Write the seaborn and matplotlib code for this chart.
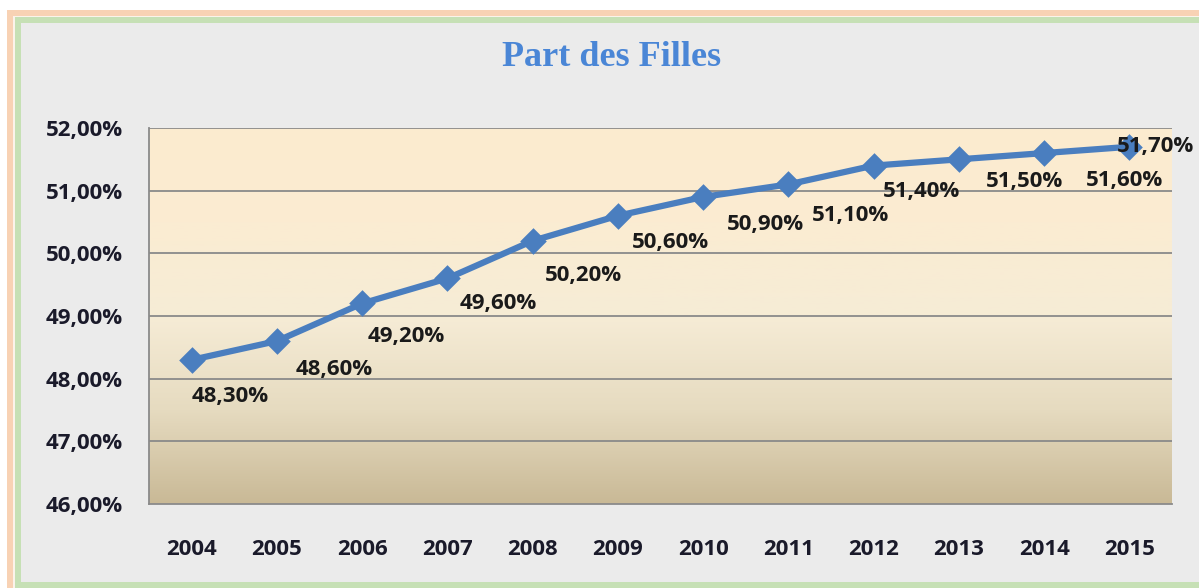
import numpy as np
import matplotlib
matplotlib.use("Agg")
import matplotlib.pyplot as plt
from matplotlib.patches import Rectangle
from matplotlib.colors import LinearSegmentedColormap
import seaborn as sns

# data
years = ["2004", "2005", "2006", "2007", "2008", "2009",
         "2010", "2011", "2012", "2013", "2014", "2015"]
part_filles = [48.3, 48.6, 49.2, 49.6, 50.2, 50.6,
               50.9, 51.1, 51.4, 51.5, 51.6, 51.7]
y_ticks = [46, 47, 48, 49, 50, 51, 52]

# label offsets in pixels (dx, dy), roughly as placed in the original
label_offsets = [(39, -37), (57, -28), (44, -33), (51, -25), (51, -35), (53, -27),
                 (62, -28), (62, -31), (48, -26), (66, -22), (80, -27), (26, 0)]

sns.set_style("white")
plt.rcParams["font.family"] = ["Open Sans", "DejaVu Sans"]

W, H = 1199, 588
fig = plt.figure(figsize=(W / 100, H / 100), dpi=100)
fig.patch.set_facecolor("white")


def px_rect(x0, y0, x1, y1, color):
    # rectangle given in image pixels (origin top-left)
    fig.add_artist(Rectangle((x0 / W, 1 - y1 / H), (x1 - x0) / W, (y1 - y0) / H,
                             transform=fig.transFigure, facecolor=color,
                             edgecolor="none", zorder=-10))


px_rect(7, 10, W + 5, H + 5, "#f8d2b4")
px_rect(13, 16, W + 5, H + 5, "#fbf3ea")
px_rect(15, 17, W + 5, H + 5, "#c6e0b5")
px_rect(21, 23, W + 5, 582, "#ebebeb")

ax = fig.add_axes([149 / W, 1 - 504 / H, (1172 - 149) / W, (504 - 128) / H])
ax.set_facecolor("none")

# gradient fill of plot area
grad = LinearSegmentedColormap.from_list(
    "plotbg", [(0.0, "#c9b996"), (0.25, "#e6dbc0"), (0.5, "#f6ecd6"),
               (0.75, "#fbecd2"), (1.0, "#fcebcf")])
ax.imshow(np.linspace(0, 1, 256).reshape(-1, 1), cmap=grad, aspect="auto",
          extent=[0, 1, 0, 1], transform=ax.transAxes, origin="lower", zorder=0)

for v in y_ticks[1:]:
    ax.axhline(v, color="#8a8a8a", lw=1.3, zorder=1)

sns.pointplot(x=years, y=part_filles, ax=ax, color="#4a7ebf",
              markers="D", markersize=10, linewidth=4.5, zorder=3)

for i, (v, off) in enumerate(zip(part_filles, label_offsets)):
    txt = f"{v:.2f}%".replace(".", ",")
    ax.annotate(txt, (i, v), xytext=off, textcoords="offset pixels",
                ha="center", va="center", fontsize=16, fontweight="bold",
                color="#1a1a1a", zorder=4, annotation_clip=False)

ax.set_xlim(-0.5, len(years) - 0.5)
ax.set_ylim(46, 52)
ax.set_yticks(y_ticks)
ax.set_yticklabels([f"{t:.2f}%".replace(".", ",") for t in y_ticks])
ax.set_xticks(np.arange(len(years)))
ax.set_xticklabels(years)
ax.set_xticks(np.arange(-0.5, len(years)), minor=True)
ax.tick_params(axis="x", which="major", length=0, pad=25)
ax.tick_params(axis="x", which="minor", length=5, width=1.3, color="#8a8a8a",
               direction="out")
ax.tick_params(axis="y", length=6, width=1.3, color="#8a8a8a", pad=13)
for lab in ax.get_xticklabels() + ax.get_yticklabels():
    lab.set_fontsize(16)
    lab.set_fontweight("bold")
    lab.set_color("#1a1a2a")

for s in ["top", "right"]:
    ax.spines[s].set_visible(False)
for s in ["left", "bottom"]:
    ax.spines[s].set_color("#8a8a8a")
    ax.spines[s].set_linewidth(1.3)
ax.set_xlabel("")
ax.set_ylabel("")

fig.text(612 / W, 1 - 57 / H, "Part des Filles", ha="center", va="center",
         fontsize=26, fontweight="bold", color="#4a86d6",
         family=["Liberation Serif", "DejaVu Serif"])

fig.savefig("out.png", dpi=100)
